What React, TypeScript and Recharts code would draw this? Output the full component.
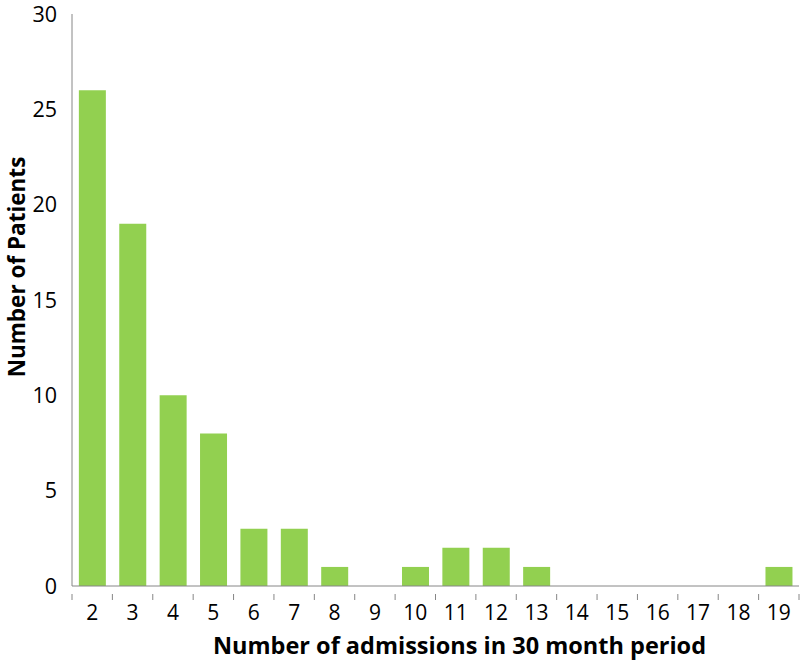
import React from 'react';
import { BarChart, Bar, XAxis, YAxis } from 'recharts';

const admissions = ['2', '3', '4', '5', '6', '7', '8', '9', '10', '11', '12', '13', '14', '15', '16', '17', '18', '19'];
const patients = [26, 19, 10, 8, 3, 3, 1, 0, 1, 2, 2, 1, 0, 0, 0, 0, 0, 1];
const yTicks = [0, 5, 10, 15, 20, 25, 30];

const data = admissions.map((a, i) => ({ admissions: a, patients: patients[i] }));

const FONT = '"Open Sans", Lato, sans-serif';
const AXIS = '#868686';

// category label plus a tick mark on the left band edge (and right edge for the last one)
const XTick = (props: any) => {
  const { x, y, payload, index } = props;
  const half = payload.offset ?? 0;
  const last = index === admissions.length - 1;
  return (
    <g>
      <line x1={x - half} x2={x - half} y1={y} y2={y + 6} stroke={AXIS} />
      {last && <line x1={x + half} x2={x + half} y1={y} y2={y + 6} stroke={AXIS} />}
      <text x={x} y={y + 26} textAnchor="middle" fontFamily={FONT} fontSize={21} fill="#000">
        {payload.value}
      </text>
    </g>
  );
};

const XTitle = (props: any) => {
  const { viewBox } = props;
  const x = viewBox.x + viewBox.width / 2 + 24;
  return (
    <text x={x} y={654} textAnchor="middle" fontFamily={FONT} fontWeight="bold" fontSize={23.5} fill="#000">
      Number of admissions in 30 month period
    </text>
  );
};

const YTitle = (props: any) => {
  const { viewBox } = props;
  const x = 16;
  const y = viewBox.y + viewBox.height / 2 - 33;
  return (
    <text x={x} y={y} transform={`rotate(-90, ${x}, ${y})`} textAnchor="middle" dominantBaseline="central"
      fontFamily={FONT} fontWeight="bold" fontSize={22.5} fill="#000">
      Number of Patients
    </text>
  );
};

const App: React.FC = () => {
  return (
    <div style={{ position: 'absolute', left: 0, top: 0, width: 800, height: 661, background: '#fff' }}>
      <BarChart width={800} height={661} data={data} margin={{ top: 14, right: 1, bottom: 0, left: 0 }}
        barCategoryGap="17%">
        <XAxis dataKey="admissions" height={75} stroke={AXIS} tickLine={false} tick={<XTick />}
          interval={0} label={<XTitle />} />
        <YAxis domain={[0, 30]} ticks={yTicks} width={72} tickLine={false} tickMargin={9} stroke={AXIS}
          tick={{ fill: '#000', fontSize: 21.5, fontFamily: FONT }} interval={0} label={<YTitle />} />
        <Bar dataKey="patients" fill="#92D050" isAnimationActive={false} />
      </BarChart>
    </div>
  );
};

export default App;
